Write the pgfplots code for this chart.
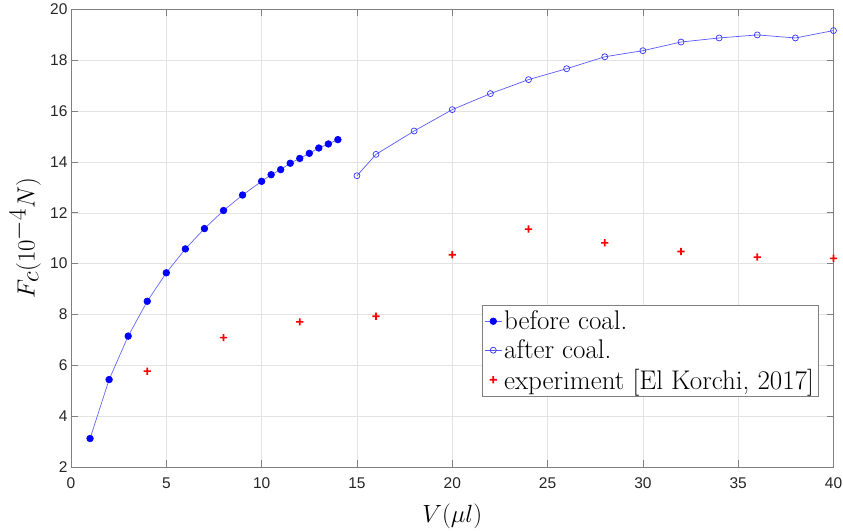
\documentclass[border=0pt]{standalone}
\usepackage{fontspec}
\usepackage{pgfplots}
\pgfplotsset{compat=1.18}
\newfontfamily\tickfont{Liberation Sans}
\pgfdeclareplotmark{thickplus}{%
  \pgfpathrectangle{\pgfpoint{-\pgfplotmarksize}{-0.8pt}}{\pgfpoint{2\pgfplotmarksize}{1.6pt}}%
  \pgfpathrectangle{\pgfpoint{-0.8pt}{-\pgfplotmarksize}}{\pgfpoint{1.6pt}{2\pgfplotmarksize}}%
  \pgfusepathqfill}
\begin{document}
\begin{tikzpicture}
\begin{axis}[
  name=ax,
  scale only axis, width=762.5pt, height=457.5pt,
  xmin=0, xmax=40, ymin=2, ymax=20,
  xtick={0,5,...,40}, ytick={2,4,...,20},
  grid=major, major grid style={black!11, line width=0.6pt},
  axis line style={black!50, line width=0.7pt},
  tick style={black!50, line width=0.7pt},
  tick align=inside, major tick length=7pt,
  /pgf/number format/assume math mode=true,
  ticklabel style={font=\fontsize{15.5}{18}\tickfont, text=black!85},
  xticklabel style={yshift=-7pt},
  xlabel={$V(\mu l)$}, ylabel={$F_c(10^{-4}N)$},
  label style={font=\fontsize{34}{40}\selectfont},
  xlabel style={at={(axis description cs:0.5,-0.107)}, anchor=center},
  ylabel style={at={(axis description cs:-0.060,0.50)}, anchor=center},
  legend style={at={(axis description cs:0.98,0.153)}, anchor=south east,
    draw=black!50, line width=0.7pt, font=\fontsize{27}{31}\selectfont,
    inner xsep=2pt, inner ysep=4pt, row sep=4.5pt},
  legend cell align=left,
]
\addplot[color=blue!60, line width=0.7pt, mark=*, mark size=3.3pt,
  mark options={solid, fill=blue, draw=blue}] coordinates {
 (1,3.12) (2,5.44) (3,7.15) (4,8.52) (5,9.64) (6,10.58) (7,11.38) (8,12.09)
 (9,12.70) (10,13.24) (10.5,13.50) (11,13.70) (11.5,13.95) (12,14.14)
 (12.5,14.34) (13,14.55) (13.5,14.71) (14,14.88)
};
\addlegendentry{before coal.}
\addplot[color=blue!65, line width=0.7pt, mark=o, mark size=3pt,
  mark options={solid, draw=blue!80}] coordinates {
 (15,13.46) (16,14.30) (18,15.22) (20,16.06) (22,16.69) (24,17.24) (26,17.67)
 (28,18.14) (30,18.38) (32,18.72) (34,18.88) (36,19.00) (38,18.88) (40,19.17)
};
\addlegendentry{after coal.}
\addplot[only marks, color=red, mark=thickplus, mark size=3.6pt,
  mark options={fill=red}] coordinates {
 (4,5.77) (8,7.09) (12,7.71) (16,7.93) (20,10.35) (24,11.36) (28,10.82)
 (32,10.48) (36,10.26) (40,10.21)
};
\addlegendentry{experiment [El Korchi, 2017]}
\end{axis}
\pgfresetboundingbox
\path[use as bounding box] ([shift={(-71pt,-64pt)}]ax.south west) rectangle ([shift={(9.5pt,9.5pt)}]ax.north east);
\end{tikzpicture}
\end{document}
